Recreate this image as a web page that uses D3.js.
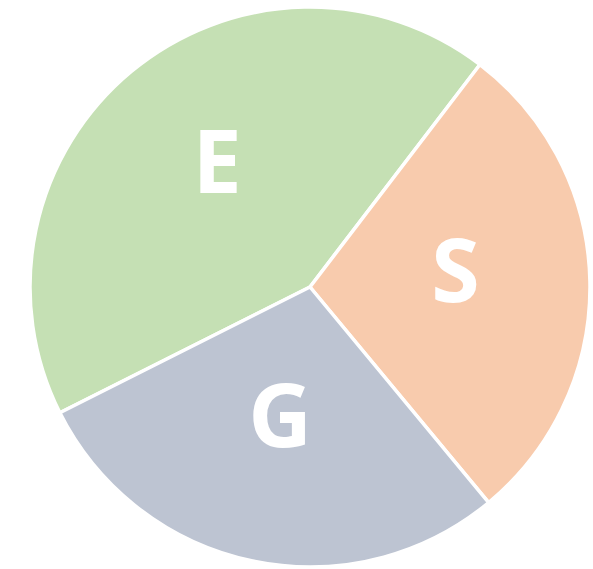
<!DOCTYPE html>
<html>
<head>
<meta charset="utf-8">
<script src="https://cdn.jsdelivr.net/npm/d3@7"></script>
<style>
  body { margin: 0; background: #fff; }
</style>
</head>
<body>
<div id="chart"></div>
<script>
// ESG split (in percent)
const labels = ["E", "S", "G"];
const values = [42.8, 28.6, 28.6];
const colors = ["#c5e0b4", "#f8cbad", "#bdc4d2"];

const width = 593, height = 569;
const cx = 310, cy = 287, radius = 280;

const svg = d3.select("#chart")
  .append("svg")
  .attr("width", width)
  .attr("height", height);

const data = labels.map((l, i) => ({label: l, value: values[i], color: colors[i]}));

// E starts at lower left and runs clockwise over the top
const pie = d3.pie()
  .sort(null)
  .value(d => d.value)
  .startAngle(-116.7 * Math.PI / 180)
  .endAngle(243.3 * Math.PI / 180);

const arc = d3.arc().innerRadius(0).outerRadius(radius);
const labelArc = d3.arc().innerRadius(radius * 0.52).outerRadius(radius * 0.52);

const g = svg.append("g").attr("transform", `translate(${cx},${cy})`);

g.selectAll("path")
  .data(pie(data))
  .enter().append("path")
  .attr("d", arc)
  .attr("fill", d => d.data.color)
  .attr("stroke", "#fff")
  .attr("stroke-width", 3.5)
  .attr("stroke-linejoin", "round");

g.selectAll("text")
  .data(pie(data))
  .enter().append("text")
  .attr("transform", d => `translate(${labelArc.centroid(d)})`)
  .attr("text-anchor", "middle")
  .attr("dy", "0.2em")
  .style("font-family", "'Open Sans', sans-serif")
  .style("font-weight", "bold")
  .style("font-size", "88px")
  .attr("fill", "#fff")
  .text(d => d.data.label);
</script>
</body>
</html>
